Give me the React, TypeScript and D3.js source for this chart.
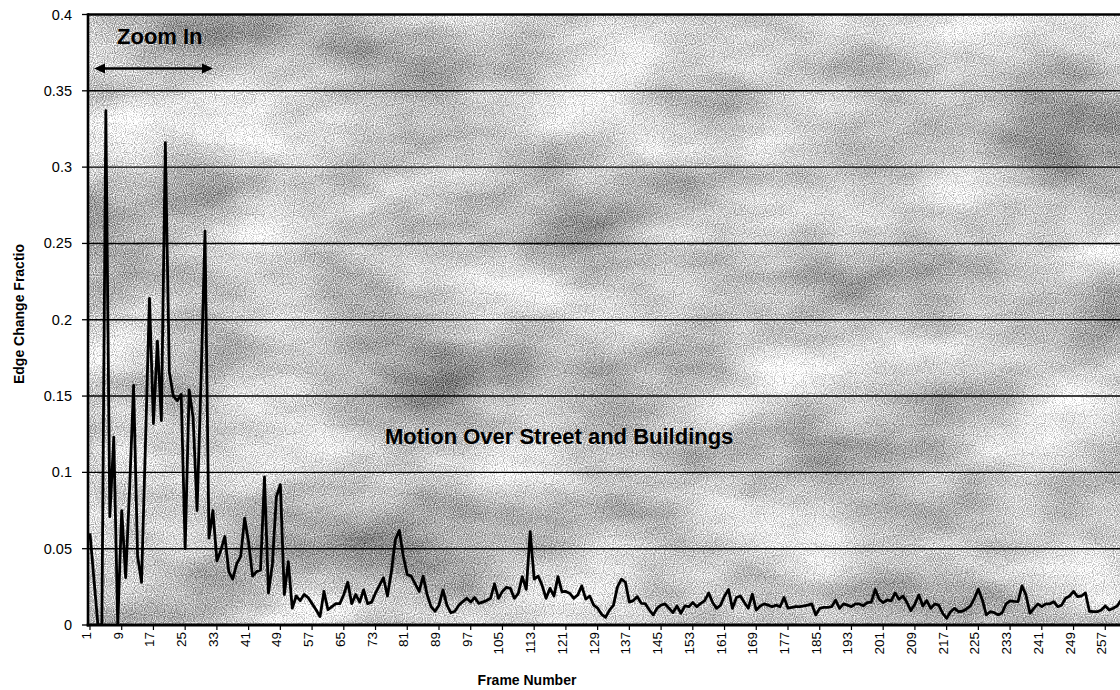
import React from 'react';
import * as d3 from 'd3';

// Edge change fraction per frame (frames 1..262)
const framesA = [0.06, 0.03, 0, 0, 0.337, 0.071, 0.123, 0, 0.075, 0.031, 0.09, 0.157, 0.045, 0.028, 0.12, 0.214, 0.132, 0.186, 0.134, 0.316];
const framesB = [0.166, 0.15, 0.147, 0.151, 0.05, 0.154, 0.136, 0.075, 0.16, 0.258, 0.057, 0.075, 0.042, 0.049, 0.058, 0.035, 0.03, 0.04, 0.045, 0.07];
const framesC = [0.054, 0.032, 0.035, 0.036, 0.097, 0.021, 0.04, 0.084, 0.092, 0.02, 0.0415, 0.011, 0.019, 0.016, 0.02, 0.018, 0.014, 0.01, 0.0055, 0.022];
const framesD = [0.01, 0.012, 0.014, 0.014, 0.02, 0.028, 0.014, 0.02, 0.015, 0.023, 0.014, 0.015, 0.021, 0.026, 0.031, 0.019, 0.035, 0.056, 0.062, 0.045];
const framesE = [0.033, 0.032, 0.027, 0.022, 0.032, 0.02, 0.012, 0.009, 0.013, 0.023, 0.013, 0.008, 0.009, 0.013, 0.0153, 0.0175, 0.015, 0.018, 0.0142, 0.015];
const framesF = [0.016, 0.0175, 0.027, 0.0175, 0.022, 0.0247, 0.024, 0.0175, 0.0207, 0.0317, 0.0233, 0.0612, 0.03, 0.032, 0.026, 0.0175, 0.024, 0.019, 0.0317, 0.0218];
const framesG = [0.022, 0.0207, 0.0175, 0.0197, 0.0256, 0.017, 0.019, 0.013, 0.011, 0.007, 0.005, 0.0098, 0.013, 0.025, 0.03, 0.028, 0.015, 0.016, 0.0186, 0.0142];
const framesH = [0.014, 0.01, 0.0066, 0.011, 0.013, 0.0138, 0.011, 0.0081, 0.0125, 0.0077, 0.0125, 0.012, 0.0147, 0.012, 0.0142, 0.016, 0.021, 0.0147, 0.0109, 0.013];
const framesI = [0.019, 0.0233, 0.0109, 0.018, 0.019, 0.0147, 0.011, 0.0203, 0.0098, 0.0125, 0.0138, 0.013, 0.012, 0.013, 0.012, 0.018, 0.011, 0.0115, 0.012, 0.012];
const framesJ = [0.0125, 0.013, 0.0138, 0.0066, 0.0109, 0.0115, 0.0115, 0.012, 0.0163, 0.0109, 0.0138, 0.013, 0.012, 0.0138, 0.0138, 0.0126, 0.0147, 0.015, 0.0233, 0.0169];
const framesK = [0.0147, 0.0164, 0.0158, 0.021, 0.0169, 0.019, 0.0147, 0.0094, 0.0138, 0.0197, 0.0125, 0.016, 0.0109, 0.0138, 0.013, 0.0077, 0.0044, 0.0087, 0.0109, 0.0087];
const framesL = [0.009, 0.0105, 0.0125, 0.0175, 0.0235, 0.0164, 0.0066, 0.0087, 0.0081, 0.0066, 0.008, 0.0138, 0.0158, 0.0155, 0.0153, 0.0256, 0.0197, 0.0077, 0.0109, 0.0138];
const framesM = [0.012, 0.0138, 0.0138, 0.0153, 0.012, 0.013, 0.0175, 0.019, 0.022, 0.0186, 0.019, 0.021, 0.009, 0.0087, 0.0087, 0.0098, 0.0125, 0.0098, 0.011, 0.0125];
const framesN = [0.0164, 0.018];

const values = [
  ...framesA, ...framesB, ...framesC, ...framesD, ...framesE, ...framesF, ...framesG,
  ...framesH, ...framesI, ...framesJ, ...framesK, ...framesL, ...framesM, ...framesN,
];

const yTickValues = [0, 0.05, 0.1, 0.15, 0.2, 0.25, 0.3, 0.35, 0.4];
const yTickLabels = ['0', '0.05', '0.1', '0.15', '0.2', '0.25', '0.3', '0.35', '0.4'];
const xTickFrames = d3.range(1, 258, 8);

const yTitle = 'Edge Change Fractio';
const xTitle = 'Frame Number';
const zoomLabel = 'Zoom In';
const noteLabel = 'Motion Over Street and Buildings';

const W = 1120;
const H = 690;
const plotLeft = 88;
const plotTop = 14.5;
const plotBottom = 625;
const step = 3.966;
const FONT = 'Arial, "Liberation Sans", Helvetica, sans-serif';

export default function App() {
  const n = values.length;
  const x = d3.scaleLinear().domain([0.5, n + 0.5]).range([plotLeft, plotLeft + n * step]);
  const y = d3.scaleLinear().domain([0, 0.4]).range([plotBottom, plotTop]);
  const line = d3
    .line<number>()
    .x((_, i) => x(i + 1))
    .y((d) => y(d));
  const path = line(values) || '';

  const arrowY = 68.5;
  const arrowX0 = 94;
  const arrowX1 = 213;

  return (
    <svg
      width={W}
      height={H}
      style={{ position: 'absolute', left: 0, top: 0, background: '#ffffff' }}
      fontFamily={FONT}
    >
      <defs>
        <clipPath id="plotClip">
          <rect x={plotLeft} y={plotTop} width={W - plotLeft} height={plotBottom - plotTop} />
        </clipPath>
        <filter id="mottle" x="0" y="0" width="1" height="1" colorInterpolationFilters="sRGB">
          <feTurbulence type="fractalNoise" baseFrequency="0.006 0.012" numOctaves={4} seed={11} result="coarse" />
          <feColorMatrix
            in="coarse"
            type="matrix"
            values="0.7 0 0 0 0.42  0.7 0 0 0 0.42  0.7 0 0 0 0.42  0 0 0 0 1"
            result="cg"
          />
          <feTurbulence type="fractalNoise" baseFrequency="0.9" numOctaves={1} seed={3} result="fine" />
          <feColorMatrix
            in="fine"
            type="matrix"
            values="1 0 0 0 0  1 0 0 0 0  1 0 0 0 0  0 0 0 0 1"
            result="fg"
          />
          <feComposite in="cg" in2="fg" operator="arithmetic" k1={0} k2={1} k3={1.1} k4={-0.55} />
        </filter>
      </defs>

      {/* plot background */}
      <rect
        x={plotLeft}
        y={plotTop}
        width={W - plotLeft}
        height={plotBottom - plotTop}
        fill="#c4c4c4"
        filter="url(#mottle)"
      />

      {/* gridlines */}
      {yTickValues.slice(1, -1).map((v) => (
        <line key={v} x1={plotLeft} x2={W} y1={y(v)} y2={y(v)} stroke="#000" strokeWidth={1.4} />
      ))}
      {/* top border */}
      <line x1={plotLeft} x2={W} y1={y(0.4)} y2={y(0.4)} stroke="#000" strokeWidth={2.6} />

      {/* data line */}
      <g clipPath="url(#plotClip)">
        <path d={path} fill="none" stroke="#000" strokeWidth={2.8} strokeLinejoin="round" />
      </g>

      {/* axes */}
      <line x1={plotLeft} x2={plotLeft} y1={plotTop - 1.3} y2={plotBottom + 1.5} stroke="#000" strokeWidth={2.6} />
      <line x1={plotLeft - 1.3} x2={W} y1={plotBottom} y2={plotBottom} stroke="#000" strokeWidth={3} />

      {/* y ticks and labels */}
      {yTickValues.map((v, i) => (
        <g key={v}>
          <line x1={plotLeft - 6} x2={plotLeft} y1={y(v)} y2={y(v)} stroke="#000" strokeWidth={1.3} />
          <text
            x={72}
            y={y(v)}
            textAnchor="end"
            dominantBaseline="central"
            fontSize={14.5}
            fill="#000"
          >
            {yTickLabels[i]}
          </text>
        </g>
      ))}

      {/* x ticks and labels */}
      {xTickFrames.map((f) => (
        <g key={f}>
          <line x1={x(f)} x2={x(f)} y1={plotBottom} y2={plotBottom + 5} stroke="#000" strokeWidth={1.2} />
          <text
            transform={`translate(${x(f) - 3.5},632) rotate(-90)`}
            textAnchor="end"
            dominantBaseline="central"
            fontSize={13.5}
            fill="#000"
          >
            {f}
          </text>
        </g>
      ))}

      {/* axis titles */}
      <text
        transform="translate(24,314) rotate(-90)"
        textAnchor="middle"
        fontSize={14}
        fontWeight="bold"
        fill="#000"
      >
        {yTitle}
      </text>
      <text x={527} y={685} textAnchor="middle" fontSize={14} fontWeight="bold" fill="#000">
        {xTitle}
      </text>

      {/* annotations */}
      <text x={117} y={44} fontSize={22} fontWeight="bold" fill="#000">
        {zoomLabel}
      </text>
      <line x1={arrowX0 + 8} x2={arrowX1 - 8} y1={arrowY} y2={arrowY} stroke="#000" strokeWidth={2.6} />
      <polygon
        points={`${arrowX0},${arrowY} ${arrowX0 + 11},${arrowY - 5} ${arrowX0 + 11},${arrowY + 5}`}
        fill="#000"
      />
      <polygon
        points={`${arrowX1},${arrowY} ${arrowX1 - 11},${arrowY - 5} ${arrowX1 - 11},${arrowY + 5}`}
        fill="#000"
      />
      <text x={385} y={444} fontSize={22} fontWeight="bold" fill="#000">
        {noteLabel}
      </text>
    </svg>
  );
}
